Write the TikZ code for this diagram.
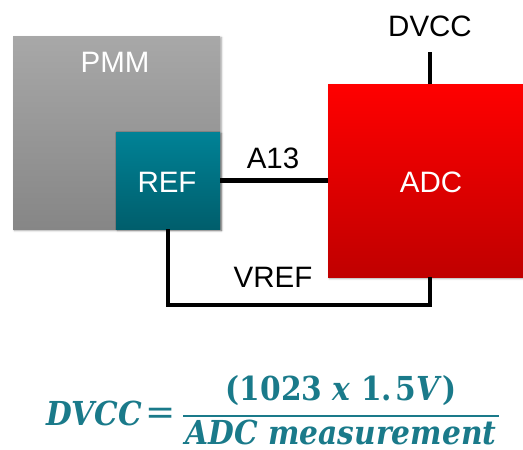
\documentclass[tikz,border=0pt]{standalone}
\usepackage{fontspec}
\setmainfont{Liberation Sans}
\newfontfamily\eqfont{DejaVu Serif}
\usetikzlibrary{shadows.blur}
\definecolor{pmmtop}{HTML}{A8A8A8}
\definecolor{pmmbot}{HTML}{868686}
\definecolor{reftop}{HTML}{008296}
\definecolor{refbot}{HTML}{005E6C}
\definecolor{adctop}{HTML}{FF0000}
\definecolor{adcbot}{HTML}{C00000}
\definecolor{eqcol}{HTML}{1A7A8A}
\newcommand{\eqtxt}[1]{\scalebox{0.9}[1]{#1}}
\begin{document}
\begin{tikzpicture}[x=1pt,y=-1pt,
  box/.style={rectangle, inner sep=0pt, outer sep=0pt,
    blur shadow={shadow xshift=1.5pt, shadow yshift=-1.5pt, shadow blur steps=5, shadow opacity=35}},
  lbl/.style={font=\fontsize{29.5}{30}\selectfont, inner sep=0pt, anchor=base},
  wire/.style={line width=4.6pt, black},
  eq/.style={font=\fontsize{33}{34}\selectfont\eqfont\bfseries, text=eqcol, inner sep=0pt, anchor=base}
]
\useasboundingbox (0,0) rectangle (523,450);
% boxes
\node[box, minimum width=207pt, minimum height=193pt, top color=pmmtop, bottom color=pmmbot] (pmm) at (116.5,132.5) {};
\node[box, minimum width=204pt, minimum height=193pt, top color=adctop, bottom color=adcbot] (adc) at (430,180.5) {};
\node[box, minimum width=104pt, minimum height=97pt, top color=reftop, bottom color=refbot] (ref) at (168,180.5) {};
% labels
\node[lbl, text=white] (pmmlbl) at (115,72) {PMM};
\node[lbl, text=white] (reflbl) at (167,192) {REF};
\node[lbl, text=white] (adclbl) at (431,192) {ADC};
\node[lbl] (dvcclbl) at (430,36) {DVCC};
\node[lbl] (a13lbl) at (273,168) {A13};
\node[lbl] (vreflbl) at (273,287) {VREF};
% wires
\coordinate (dvtop) at (430,52);
\coordinate (vbot) at (0,305);
\draw[wire] (adc.north) -- (dvtop);
\draw[wire] (ref.east) -- (adc.west);
\draw[wire, line join=miter] (ref.south) -- (ref.south |- vbot) -| (adc.south);
% formula
\node[eq, anchor=base west] (lhs) at (46,425) {\eqtxt{\itshape DVCC}};
\node[eq, anchor=center, font=\fontsize{36}{36}\selectfont\eqfont\mdseries] (eqsign) at (161,416) {=};
\node[eq] (num) at (341,400) {\eqtxt{(1023 \textit{x} 1.\hspace{0.12em}5\textit{V})}};
\node[eq] (den) at (341,444) {\eqtxt{\itshape ADC measurement}};
\draw[eqcol, line width=2.6pt] (183,416) -- (499,416);
\end{tikzpicture}
\end{document}
